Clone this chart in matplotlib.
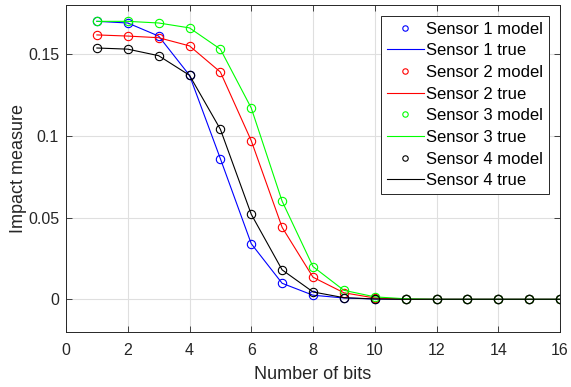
import numpy as np
import matplotlib.pyplot as plt

plt.rcParams['font.family'] = ['Liberation Sans', 'DejaVu Sans']

bits = np.arange(1, 17)

# valores (modelo ~ verdadeiro)
s1 = [0.170, 0.169, 0.161, 0.137, 0.086, 0.034, 0.0098, 0.0025, 0.0008, 0.0002,
      0.0, 0.0, 0.0, 0.0, 0.0, 0.0]
s2 = [0.1617, 0.161, 0.160, 0.155, 0.139, 0.097, 0.044, 0.0135, 0.004, 0.0008,
      0.0001, 0.0, 0.0, 0.0, 0.0, 0.0]
s3 = [0.170, 0.170, 0.169, 0.166, 0.153, 0.117, 0.060, 0.020, 0.0055, 0.0015,
      0.0003, 0.0, 0.0, 0.0, 0.0, 0.0]
s4 = [0.1537, 0.153, 0.149, 0.137, 0.104, 0.052, 0.018, 0.0045, 0.001, 0.0002,
      0.0, 0.0, 0.0, 0.0, 0.0, 0.0]

series = [s1, s2, s3, s4]
cores = ['#0000ff', '#ff0000', '#00ff00', '#000000']

fig = plt.figure(figsize=(5.71, 3.87), dpi=100)
ax = fig.add_axes([66/571, 1 - 332/387, (560-66)/571, (332-5)/387])

for i, (vals, c) in enumerate(zip(series, cores)):
    ax.plot(bits, vals, 'o', mfc='none', mec=c, ms=6, mew=0.8,
            label=f'Sensor {i+1} model')
    ax.plot(bits, vals, '-', color=c, lw=0.8, label=f'Sensor {i+1} true')

ax.set_xlim(0, 16)
ax.set_ylim(-0.02, 0.18)
ax.set_xticks(np.arange(0, 17, 2))
ax.set_yticks([0, 0.05, 0.1, 0.15])
ax.set_yticklabels(['0', '0.05', '0.1', '0.15'])
ax.grid(True, color='#dfdfdf', lw=0.8)
ax.set_axisbelow(True)
ax.tick_params(direction='in', length=4, width=0.6, colors='#262626',
               labelsize=11.5, top=True, right=True, pad=5)
ax.tick_params(axis='x', pad=8)
for sp in ax.spines.values():
    sp.set_color('#262626')
    sp.set_linewidth(0.7)

ax.set_xlabel('Number of bits', fontsize=13, color='#262626', labelpad=6)
ax.set_ylabel('Impact measure', fontsize=13, color='#262626', labelpad=1)

leg = ax.legend(loc='upper right', fontsize=12, fancybox=False,
                edgecolor='#262626', framealpha=1, borderaxespad=0.65,
                handlelength=2.2, handletextpad=0.15, labelspacing=0.4,
                borderpad=0.35, markerscale=0.65)
leg.get_frame().set_linewidth(0.7)

plt.savefig('out.png', dpi=100)
